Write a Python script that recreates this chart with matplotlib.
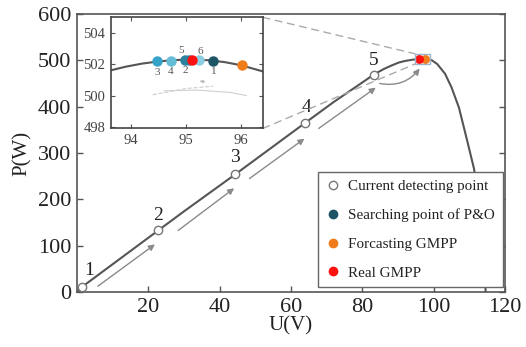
import matplotlib
matplotlib.use("Agg")
import matplotlib.pyplot as plt
from matplotlib.patches import Rectangle, ConnectionPatch
from matplotlib.lines import Line2D

plt.rcParams['font.family'] = ['Liberation Serif', 'DejaVu Serif']

# P-U curve (main panel)
curve_u = [0.5, 1.4, 10, 22.8, 30, 44.4, 55, 64, 72, 80, 83.2, 86, 88, 90.2, 92, 93.9,
           96, 98, 99.5, 101, 103.2, 105, 107.1, 109.4, 111.3, 112.5, 113.5, 114.2, 114.6]
curve_p = [4, 11, 60, 133, 174, 254, 314, 365, 410, 452, 469, 481, 488, 495, 498.5, 501,
           503, 503, 500, 492, 471, 442, 398, 327, 267, 210, 135, 60, 0]

# zoomed curve near the peak (inset)
inset_u = [93.6, 93.9, 94.2, 94.5, 94.8, 95.1, 95.4, 95.7, 96.0, 96.4]
inset_p = [501.58, 501.84, 502.04, 502.18, 502.27, 502.3, 502.26, 502.14, 501.94, 501.54]

# current detecting points 1..5
det_u = [1.4, 22.8, 44.4, 64.0, 83.2]
det_p = [11, 133, 254, 365, 469]
det_labels = ['1', '2', '3', '4', '5']
det_label_u = [3.4, 22.8, 44.4, 64.4, 83.2]
det_label_p = [47, 166, 290, 398, 500]

real_gmpp_main = (95.8, 503)
fore_gmpp_main = (97.5, 502)
real_gmpp = (95.11, 502.3)
fore_gmpp = (96.02, 501.94)

# P&O searching points (inset)
po_u = [95.5, 94.99, 94.48, 94.73, 95.05, 95.24]
po_p = [502.22, 502.3, 502.18, 502.24, 502.3, 502.28]
po_labels = ['1', '2', '3', '4', '5', '6']
po_colors = ['#1d5466', '#2a829e', '#35a3c8', '#64bcd6', '#2a829e', '#8ccfe2']
po_lab_u = [95.5, 94.99, 94.48, 94.73, 94.92, 95.26]
po_lab_p = [501.55, 501.6, 501.5, 501.55, 502.85, 502.8]

# arrows (tail u, tail p, head u, head p)
arrows = [(5.9, 12.9, 21.9, 103), (28.4, 133, 44.1, 224), (48.4, 245, 63.8, 331),
          (67.8, 353, 83.8, 441)]
curved_arrow = (84.9, 450, 96.1, 482)

fig = plt.figure(figsize=(5.26, 3.47), dpi=100)
ax = fig.add_axes([0.146, 0.158, 0.814, 0.802])

ax.plot(curve_u, curve_p, color='#555555', lw=1.5, zorder=2)
for a in arrows:
    ax.annotate('', xy=(a[2], a[3]), xytext=(a[0], a[1]),
                arrowprops=dict(arrowstyle='-|>', color='#8a8a8a', lw=1.0,
                                mutation_scale=9, shrinkA=0, shrinkB=0), zorder=1)
ax.annotate('', xy=(curved_arrow[2], curved_arrow[3]), xytext=(curved_arrow[0], curved_arrow[1]),
            arrowprops=dict(arrowstyle='-|>', color='#8a8a8a', lw=1.0, mutation_scale=9,
                            connectionstyle='arc3,rad=0.3', shrinkA=0, shrinkB=0), zorder=1)

ax.plot(det_u, det_p, 'o', ms=6, mfc='white', mec='#777777', mew=1.0, zorder=4)
for t, u, p in zip(det_labels, det_label_u, det_label_p):
    ax.text(u, p, t, fontsize=14, color='#222222', ha='center', va='center')

ax.plot(*fore_gmpp_main, 'o', ms=5.5, color='#f07c1c', zorder=5)
ax.plot(*real_gmpp_main, 'o', ms=5.5, color='#ff1010', zorder=5)

# zoom rectangle
ax.add_patch(Rectangle((94.8, 492), 4.2, 22, fill=False, ec='#9fb3c8', lw=1.0, zorder=6))

ax.set_xlim(0, 120)
ax.set_ylim(0, 600)
ax.set_xticks([20, 40, 60, 80, 100, 120])
ax.set_yticks([0, 100, 200, 300, 400, 500, 600])
ax.tick_params(direction='in', length=4, width=1, colors='#555555', labelcolor='#222222',
               labelsize=16, top=False, right=True, pad=4)
for s in ax.spines.values():
    s.set_color('#555555')
    s.set_linewidth(1.2)
ax.set_xlabel('U(V)', fontsize=15, color='#222222', labelpad=0)
ax.set_ylabel('P(W)', fontsize=15, color='#222222', labelpad=4)

handles = [
    Line2D([], [], ls='none', marker='o', ms=6, mfc='white', mec='#777777'),
    Line2D([], [], ls='none', marker='o', ms=6, color='#1d5466'),
    Line2D([], [], ls='none', marker='o', ms=6, color='#f07c1c'),
    Line2D([], [], ls='none', marker='o', ms=6, color='#ff1010'),
]
names = ['Current detecting point', 'Searching point of P&O', 'Forcasting GMPP', 'Real GMPP']
leg = ax.legend(handles, names, loc='lower right', bbox_to_anchor=(0.995, 0.018),
                fontsize=10.9, frameon=True, fancybox=False, framealpha=1,
                edgecolor='#666666', labelspacing=1.0, handlelength=1.0,
                handletextpad=0.5, borderpad=0.5, borderaxespad=0)
leg.get_frame().set_linewidth(1.0)
for t in leg.get_texts():
    t.set_color('#222222')
leg.set_zorder(10)

# inset
ins = fig.add_axes([0.211, 0.630, 0.289, 0.320])
ins.plot(inset_u, inset_p, color='#555555', lw=1.5, zorder=2)
for u, p, c in zip(po_u, po_p, po_colors):
    ins.plot(u, p, 'o', ms=6.5, color=c, zorder=4)
ins.plot(*real_gmpp, 'o', ms=6.5, color='#ff1010', zorder=5)
ins.plot(*fore_gmpp, 'o', ms=6.5, color='#f07c1c', zorder=5)
for t, u, p in zip(po_labels, po_lab_u, po_lab_p):
    ins.text(u, p, t, fontsize=8, color='#555555', ha='center', va='center')
ins.plot([94.4, 95.0, 95.5], [500.05, 500.45, 500.6], color='#cccccc', lw=0.8, ls='--')
ins.annotate('', xy=(95.2, 500.95), xytext=(95.4, 500.85),
             arrowprops=dict(arrowstyle='-|>', color='#bbbbbb', lw=0.6, mutation_scale=5))
ins.plot([94.6, 95.2, 95.8, 96.1], [500.3, 500.35, 500.2, 500.0], color='#d0d0d0', lw=0.8)
ins.set_xlim(93.64, 96.4)
ins.set_ylim(497.9, 505.0)
ins.set_xticks([94, 95, 96])
ins.set_yticks([498, 500, 502, 504])
ins.tick_params(direction='in', length=3, width=0.8, colors='#555555', labelcolor='#444444',
                labelsize=10.5, top=True, right=True, pad=4)
for s in ins.spines.values():
    s.set_color('#444444')
    s.set_linewidth(1.2)

# connector dashed lines
for (xa, ya), (xb, yb) in [((1, 1), (94.8, 514)), ((1, 0), (94.8, 492))]:
    cp = ConnectionPatch(xyA=(xa, ya), coordsA=ins.transAxes, xyB=(xb, yb), coordsB=ax.transData,
                         color='#aaaaaa', lw=1.0, ls=(0, (5, 4)), zorder=3)
    ax.add_artist(cp)

fig.savefig('out.png', dpi=100)
